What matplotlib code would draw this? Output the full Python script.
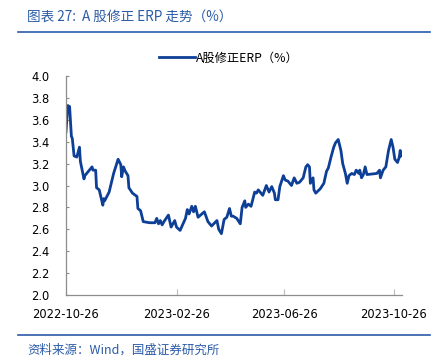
import pandas as pd
import numpy as np
import matplotlib
matplotlib.use("Agg")
import matplotlib.pyplot as plt
import matplotlib.dates as mdates
from matplotlib.lines import Line2D

plt.rcParams["font.family"] = ["DejaVu Sans", "Noto Sans CJK SC"]

start_date = "2022-10-26"
# day offsets from start_date and the ERP value (%)
day_offsets = [0, 2, 4, 6, 7, 9, 12, 15, 16, 20, 21, 29, 30, 33, 34, 37, 41, 42, 43, 48,
               53, 58, 61, 62, 64, 66, 69, 70, 74, 79, 80, 83, 86, 93, 99, 101, 103, 105,
               107, 109, 114, 117, 121, 123, 127, 132, 133, 135, 137, 140, 142, 144, 147,
               154, 158, 162, 168, 170, 173, 176, 179, 182, 184, 186, 190, 194, 196, 199,
               200, 203, 206, 210, 212, 214, 217, 219, 223, 226, 229, 232, 233, 236, 238,
               242, 244, 247, 251, 254, 257, 260, 262, 264, 267, 269, 271, 272, 275, 276,
               278, 283, 287, 290, 292, 295, 298, 300, 303, 306, 308, 311, 313, 315, 318,
               321, 323, 326, 327, 329, 331, 333, 335, 346, 349, 350, 353, 356, 359, 362,
               364, 366, 369, 371, 372, 373]
erp_values = [3.49, 3.73, 3.72, 3.45, 3.43, 3.27, 3.26, 3.35, 3.22, 3.06, 3.09, 3.17, 3.14,
              3.14, 2.98, 2.96, 2.82, 2.88, 2.86, 2.94, 3.11, 3.24, 3.19, 3.08, 3.17, 3.13,
              3.09, 2.98, 2.93, 2.90, 2.79, 2.77, 2.67, 2.66, 2.66, 2.70, 2.65, 2.68, 2.64,
              2.67, 2.73, 2.62, 2.68, 2.62, 2.59, 2.68, 2.70, 2.78, 2.74, 2.81, 2.76, 2.81,
              2.71, 2.76, 2.67, 2.63, 2.68, 2.60, 2.56, 2.69, 2.71, 2.79, 2.72, 2.72, 2.70,
              2.65, 2.80, 2.86, 2.80, 2.83, 2.81, 2.94, 2.93, 2.96, 2.93, 2.91, 3.00, 2.94,
              2.99, 2.93, 2.87, 2.87, 2.99, 3.09, 3.05, 3.04, 3.00, 3.07, 3.02, 3.03, 3.05,
              3.07, 3.17, 3.19, 3.17, 3.02, 3.07, 2.96, 2.93, 2.97, 3.02, 3.13, 3.16, 3.26,
              3.35, 3.39, 3.42, 3.32, 3.20, 3.11, 3.02, 3.09, 3.11, 3.10, 3.14, 3.11, 3.14,
              3.07, 3.10, 3.17, 3.10, 3.11, 3.14, 3.07, 3.14, 3.17, 3.32, 3.42, 3.35, 3.24,
              3.21, 3.26, 3.32, 3.27]
tick_dates = ["2022-10-26", "2023-02-26", "2023-06-26", "2023-10-26"]
end_date = "2023-11-04"

dates = pd.Timestamp(start_date) + pd.to_timedelta(day_offsets, unit="D")
series = pd.Series(erp_values, index=dates)

blue = "#0D3F97"
head_blue = "#2B5BA8"
cjk = ["Noto Sans CJK SC", "DejaVu Sans"]

fig = plt.figure(figsize=(4.45, 3.59), dpi=100)
ax = fig.add_axes([66 / 445, 1 - 295 / 359, (402 - 66) / 445, (295 - 76) / 359])

ax.plot(series.index, series.values, color=blue, lw=2.0, solid_joinstyle="round")

ax.set_ylim(2.0, 4.0)
ax.set_yticks(np.arange(2.0, 4.01, 0.2))
ax.yaxis.set_major_formatter(plt.FormatStrFormatter("%.1f"))
ax.set_xlim(pd.Timestamp(start_date), pd.Timestamp(end_date))
ax.set_xticks(pd.to_datetime(tick_dates))
ax.xaxis.set_major_formatter(mdates.DateFormatter("%Y-%m-%d"))

for s in ["top", "right"]:
    ax.spines[s].set_visible(False)
for s in ["left", "bottom"]:
    ax.spines[s].set_color("#8c8c8c")
    ax.spines[s].set_linewidth(0.9)
ax.tick_params(axis="y", direction="in", length=2.5, color="#8c8c8c", pad=12, labelsize=8.3)
ax.tick_params(axis="x", direction="in", length=4, color="#bdbdbd", pad=9, labelsize=8.3)

# legend drawn on top of the axes
handle = Line2D([], [], color=blue, lw=2.0)
fig.legend([handle], ["A股修正ERP（%）"], loc="center", bbox_to_anchor=(229 / 445, 1 - 58 / 359),
           frameon=False, prop={"family": cjk, "size": 8.8}, handlelength=2.9, handletextpad=0.1)

# header and footer
fig.text(27 / 445, 1 - 17 / 359, "图表 27:  A 股修正 ERP 走势（%）", color=head_blue, fontsize=9.8,
         style="italic", family=cjk, va="center", ha="left")
fig.add_artist(Line2D([18 / 445, 430 / 445], [1 - 32 / 359] * 2, color=head_blue, lw=1.2))
fig.add_artist(Line2D([18 / 445, 430 / 445], [1 - 335 / 359] * 2, color=head_blue, lw=1.2))
fig.text(27 / 445, 1 - 350 / 359, "资料来源：Wind，国盛证券研究所", color=head_blue, fontsize=9,
         style="italic", family=cjk, va="center", ha="left")

fig.savefig("out.png", dpi=100)
